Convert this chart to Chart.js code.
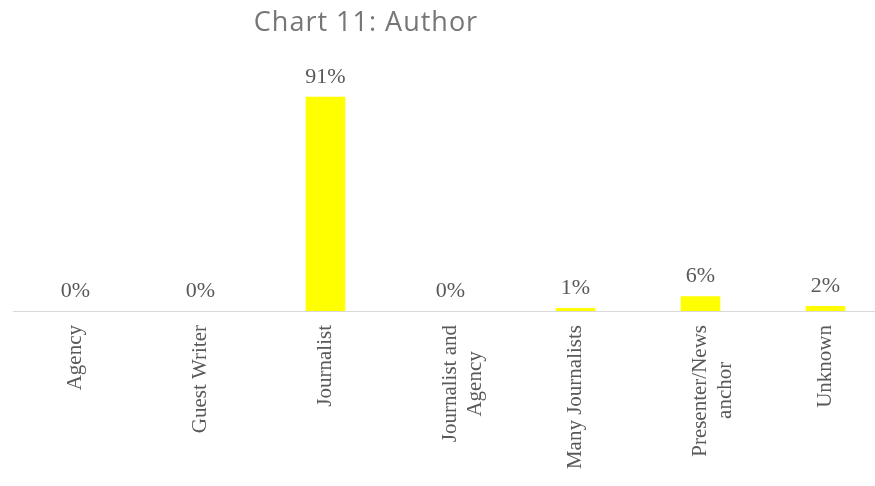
<!DOCTYPE html>
<html>
<head>
<meta charset="utf-8">
<script src="https://cdn.jsdelivr.net/npm/chart.js@4/dist/chart.umd.min.js"></script>
<style>
  html, body { margin: 0; padding: 0; background: #ffffff; overflow: hidden; }
  #wrap { width: 875px; height: 486px; overflow: hidden; position: relative; }
  canvas { display: block; }
</style>
</head>
<body>
<div id="wrap"><canvas id="c" width="890" height="486"></canvas></div>
<script>
const chartTitle = "Chart 11: Author";
// second lines padded so they sit centred under the first line (labels are right-aligned when rotated)
const categories = ["Agency", "Guest Writer", "Journalist", ["Journalist and", "Agency     "], "Many Journalists", ["Presenter/News", "anchor       "], "Unknown"];
const shares = [0, 0, 90.8, 0, 1.3, 6.3, 2.1];

const textGray = "#595959";
const serif = "'Liberation Serif', 'Times New Roman', serif";

const titlePlugin = {
  id: "customTitle",
  afterDraw(chart) {
    const ctx = chart.ctx;
    ctx.save();
    ctx.font = "27px 'Open Sans', Lato, sans-serif";
    if ("letterSpacing" in ctx) ctx.letterSpacing = "1px";
    ctx.fillStyle = "#767676";
    ctx.textAlign = "center";
    ctx.textBaseline = "alphabetic";
    ctx.fillText(chartTitle, 366, 31);
    ctx.restore();
  }
};

const labelPlugin = {
  id: "valueLabels",
  afterDatasetsDraw(chart) {
    const ctx = chart.ctx;
    const meta = chart.getDatasetMeta(0);
    ctx.save();
    ctx.font = "22px " + serif;
    ctx.fillStyle = textGray;
    ctx.textAlign = "center";
    ctx.textBaseline = "alphabetic";
    meta.data.forEach((bar, i) => {
      const v = chart.data.datasets[0].data[i];
      ctx.fillText(Math.round(v) + "%", bar.x, bar.y - 14);
    });
    ctx.restore();
  }
};

new Chart(document.getElementById("c"), {
  type: "bar",
  data: {
    labels: categories,
    datasets: [{
      data: shares,
      backgroundColor: "#FFFF00",
      borderWidth: 0,
      categoryPercentage: 1,
      barPercentage: 0.317
    }]
  },
  options: {
    responsive: false,
    animation: false,
    devicePixelRatio: 1,
    layout: { padding: { left: 13, right: 2, top: 75, bottom: 0 } },
    plugins: { legend: { display: false }, title: { display: false }, tooltip: { enabled: false } },
    scales: {
      x: {
        grid: { display: false, drawTicks: false },
        border: { display: true, color: "#d9d9d9", width: 1 },
        ticks: {
          color: textGray,
          font: { family: serif, size: 21 },
          minRotation: 90,
          maxRotation: 90,
          padding: 14,
          autoSkip: false
        },
        afterFit(scale) { scale.height = 175; }
      },
      y: {
        display: false,
        min: 0,
        max: 100
      }
    }
  },
  plugins: [titlePlugin, labelPlugin]
});
</script>
</body>
</html>
